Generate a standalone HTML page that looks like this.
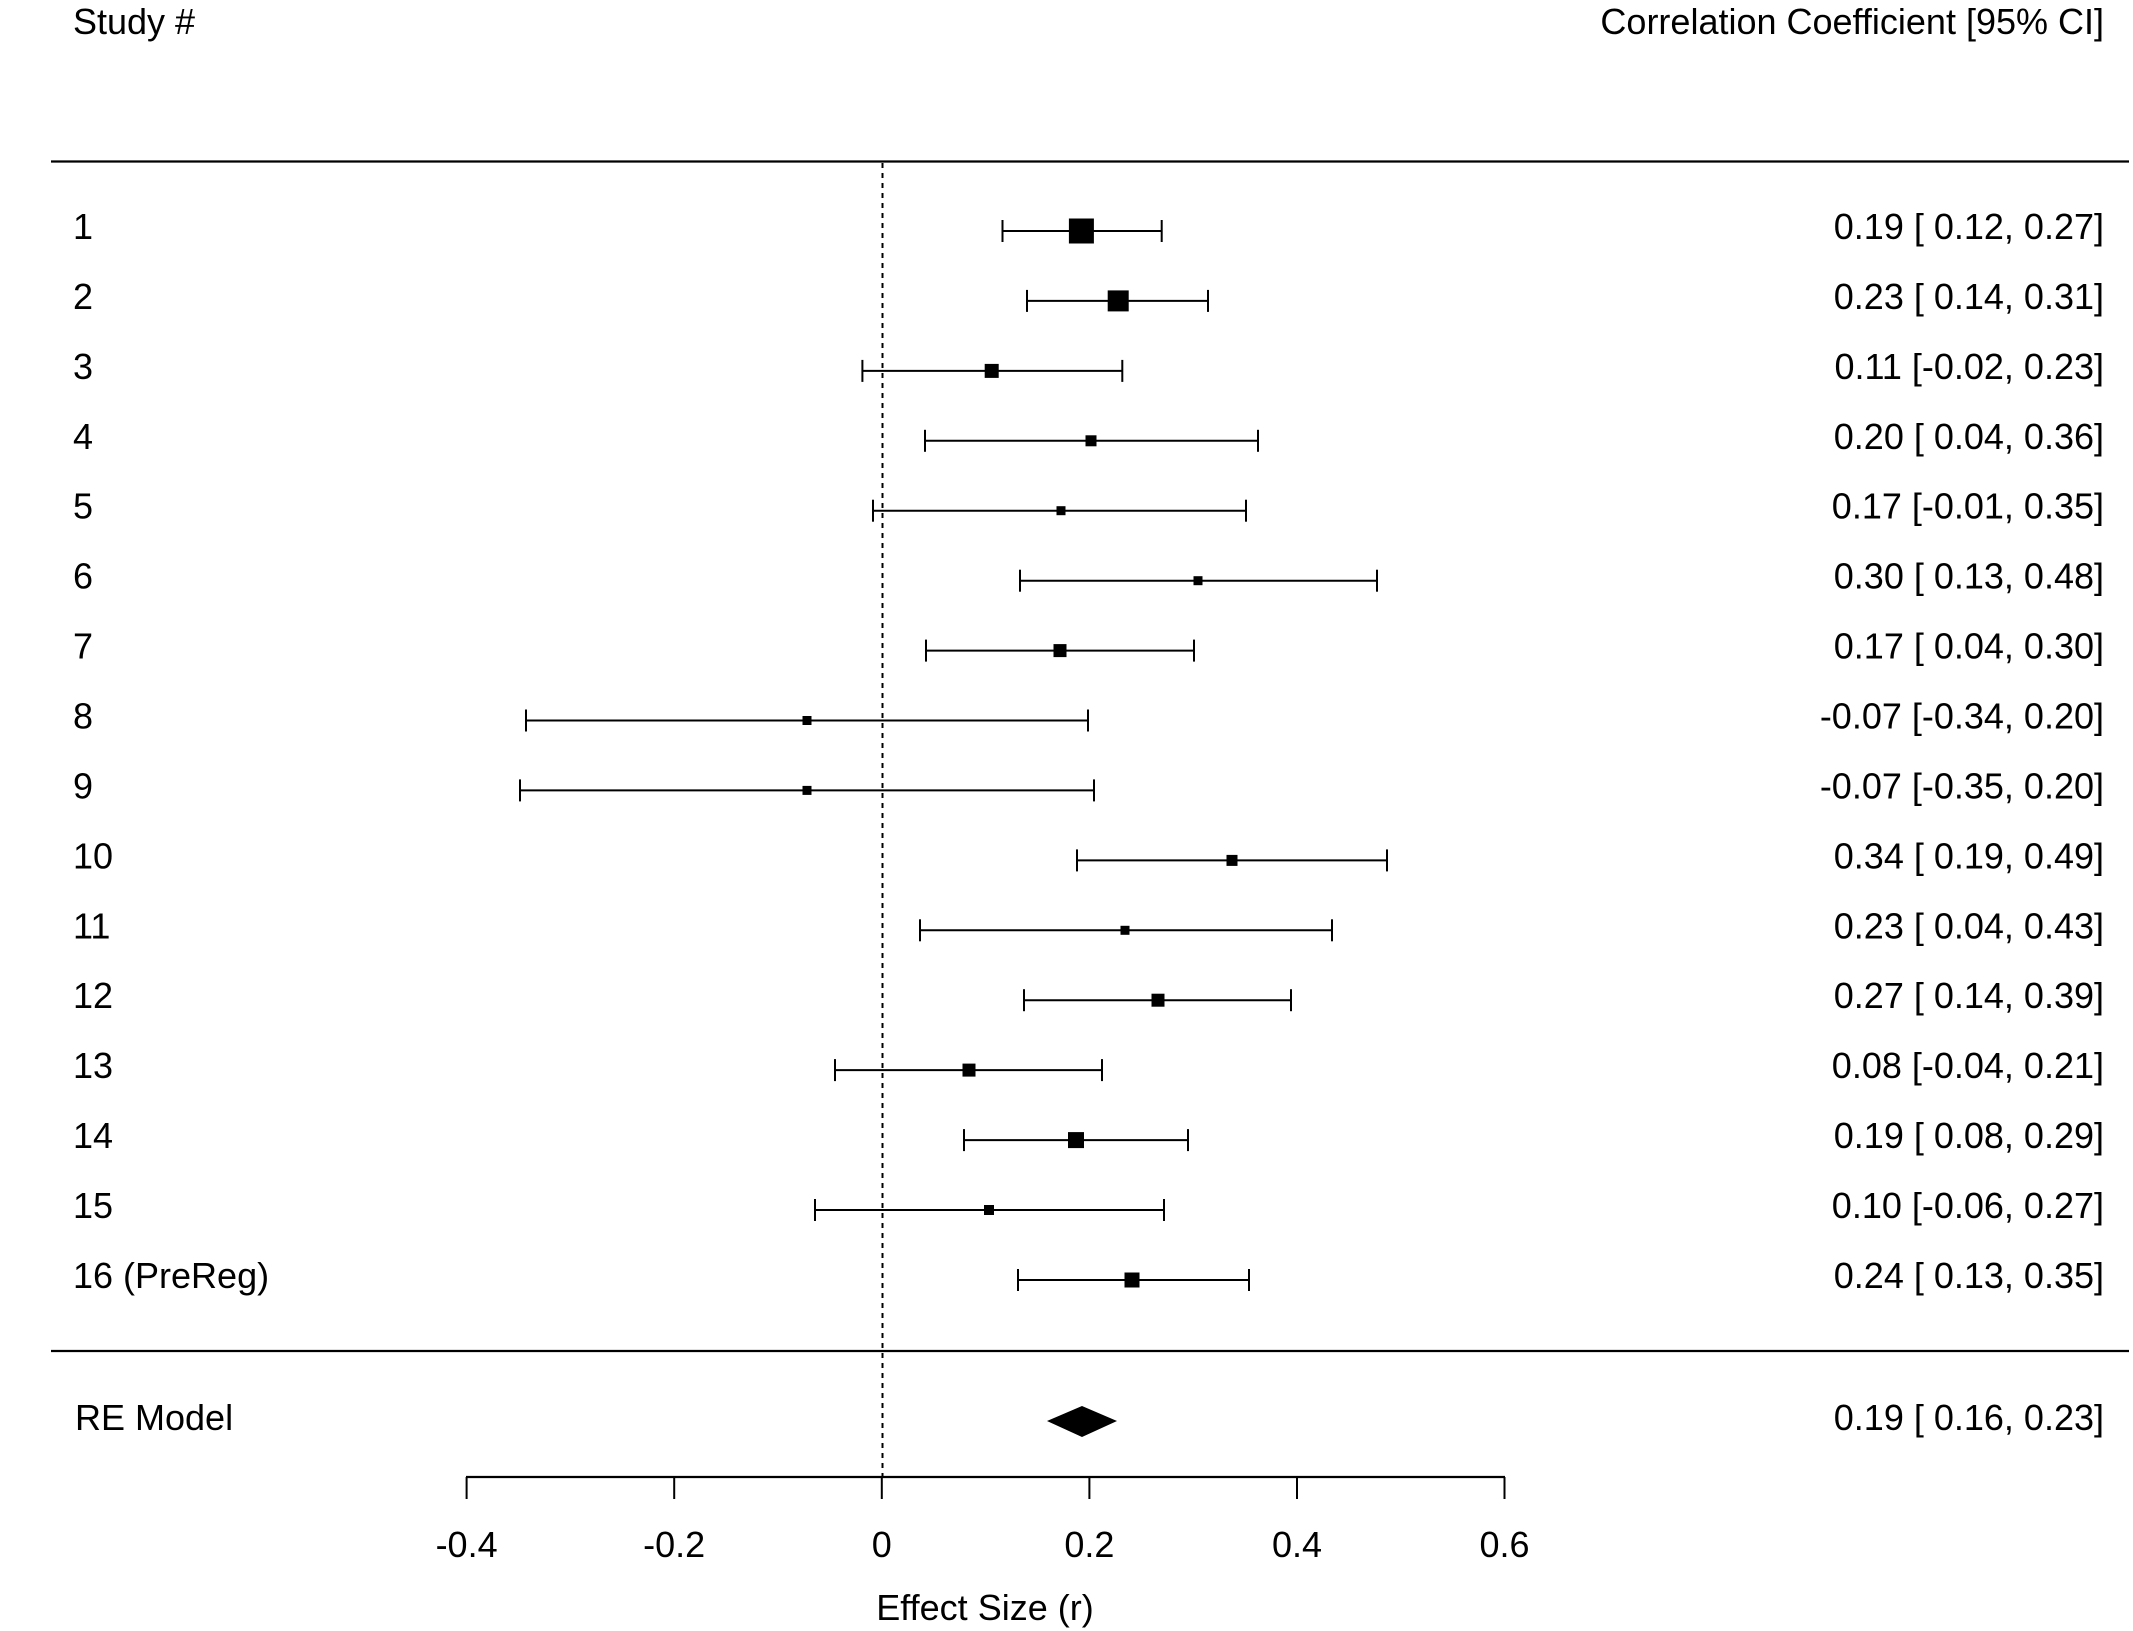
<!DOCTYPE html>
<html><head><meta charset="utf-8"><style>
html,body{margin:0;padding:0;background:#fff;}
svg{display:block;}
text{font-family:"Liberation Sans",Arial,sans-serif;font-size:36px;fill:#000;}
</style></head><body>
<svg width="2133" height="1631" viewBox="0 0 2133 1631" xmlns="http://www.w3.org/2000/svg">
<text x="73" y="34">Study #</text>
<text x="2104" y="34" text-anchor="end">Correlation Coefficient [95% CI]</text>
<line x1="51" y1="161.5" x2="2129" y2="161.5" stroke="#000" stroke-width="2.2"/>
<line x1="51" y1="1351" x2="2129" y2="1351" stroke="#000" stroke-width="2.2"/>
<line x1="882.5" y1="163" x2="882.5" y2="1476" stroke="#000" stroke-width="2" stroke-dasharray="5,5"/>
<polygon points="1047,1421 1082,1406 1117,1421 1082,1437" fill="#000"/>
<text x="75" y="1430">RE Model</text>
<text x="2104" y="1430" text-anchor="end" xml:space="preserve">0.19 [ 0.16, 0.23]</text>
<line x1="466" y1="1477" x2="1505" y2="1477" stroke="#000" stroke-width="2.2"/>
<g stroke="#000" stroke-width="2">
<line x1="466.6" y1="1477" x2="466.6" y2="1499"/>
<line x1="674.2" y1="1477" x2="674.2" y2="1499"/>
<line x1="881.8" y1="1477" x2="881.8" y2="1499"/>
<line x1="1089.4" y1="1477" x2="1089.4" y2="1499"/>
<line x1="1297" y1="1477" x2="1297" y2="1499"/>
<line x1="1504.5" y1="1477" x2="1504.5" y2="1499"/>
</g>
<g text-anchor="middle">
<text x="466.6" y="1557">-0.4</text>
<text x="674.2" y="1557">-0.2</text>
<text x="881.8" y="1557">0</text>
<text x="1089.4" y="1557">0.2</text>
<text x="1297" y="1557">0.4</text>
<text x="1504.5" y="1557">0.6</text>
<text x="985" y="1620">Effect Size (r)</text>
</g>
<g>
<line x1="1002.5" y1="231" x2="1161.7" y2="231" stroke="#000" stroke-width="2"/><line x1="1002.5" y1="220" x2="1002.5" y2="242" stroke="#000" stroke-width="2"/><line x1="1161.7" y1="220" x2="1161.7" y2="242" stroke="#000" stroke-width="2"/><rect x="1068.9" y="218.5" width="25" height="25"/>
<line x1="1027" y1="300.9" x2="1208" y2="300.9" stroke="#000" stroke-width="2"/><line x1="1027" y1="289.9" x2="1027" y2="311.9" stroke="#000" stroke-width="2"/><line x1="1208" y1="289.9" x2="1208" y2="311.9" stroke="#000" stroke-width="2"/><rect x="1107.7" y="290.4" width="21" height="21"/>
<line x1="862.4" y1="370.9" x2="1122.3" y2="370.9" stroke="#000" stroke-width="2"/><line x1="862.4" y1="359.9" x2="862.4" y2="381.9" stroke="#000" stroke-width="2"/><line x1="1122.3" y1="359.9" x2="1122.3" y2="381.9" stroke="#000" stroke-width="2"/><rect x="984.7" y="363.9" width="14" height="14"/>
<line x1="925" y1="440.8" x2="1258" y2="440.8" stroke="#000" stroke-width="2"/><line x1="925" y1="429.8" x2="925" y2="451.8" stroke="#000" stroke-width="2"/><line x1="1258" y1="429.8" x2="1258" y2="451.8" stroke="#000" stroke-width="2"/><rect x="1085.5" y="435.3" width="11" height="11"/>
<line x1="873" y1="510.7" x2="1246" y2="510.7" stroke="#000" stroke-width="2"/><line x1="873" y1="499.7" x2="873" y2="521.7" stroke="#000" stroke-width="2"/><line x1="1246" y1="499.7" x2="1246" y2="521.7" stroke="#000" stroke-width="2"/><rect x="1056.5" y="506.2" width="9" height="9"/>
<line x1="1020" y1="580.7" x2="1377" y2="580.7" stroke="#000" stroke-width="2"/><line x1="1020" y1="569.7" x2="1020" y2="591.7" stroke="#000" stroke-width="2"/><line x1="1377" y1="569.7" x2="1377" y2="591.7" stroke="#000" stroke-width="2"/><rect x="1193.5" y="576.2" width="9" height="9"/>
<line x1="926" y1="650.6" x2="1194" y2="650.6" stroke="#000" stroke-width="2"/><line x1="926" y1="639.6" x2="926" y2="661.6" stroke="#000" stroke-width="2"/><line x1="1194" y1="639.6" x2="1194" y2="661.6" stroke="#000" stroke-width="2"/><rect x="1053.5" y="644.1" width="13" height="13"/>
<line x1="526" y1="720.5" x2="1088" y2="720.5" stroke="#000" stroke-width="2"/><line x1="526" y1="709.5" x2="526" y2="731.5" stroke="#000" stroke-width="2"/><line x1="1088" y1="709.5" x2="1088" y2="731.5" stroke="#000" stroke-width="2"/><rect x="802.5" y="716" width="9" height="9"/>
<line x1="520" y1="790.4" x2="1094" y2="790.4" stroke="#000" stroke-width="2"/><line x1="520" y1="779.4" x2="520" y2="801.4" stroke="#000" stroke-width="2"/><line x1="1094" y1="779.4" x2="1094" y2="801.4" stroke="#000" stroke-width="2"/><rect x="802.5" y="785.9" width="9" height="9"/>
<line x1="1077" y1="860.4" x2="1387" y2="860.4" stroke="#000" stroke-width="2"/><line x1="1077" y1="849.4" x2="1077" y2="871.4" stroke="#000" stroke-width="2"/><line x1="1387" y1="849.4" x2="1387" y2="871.4" stroke="#000" stroke-width="2"/><rect x="1226.5" y="854.9" width="11" height="11"/>
<line x1="920" y1="930.3" x2="1332" y2="930.3" stroke="#000" stroke-width="2"/><line x1="920" y1="919.3" x2="920" y2="941.3" stroke="#000" stroke-width="2"/><line x1="1332" y1="919.3" x2="1332" y2="941.3" stroke="#000" stroke-width="2"/><rect x="1120.5" y="925.8" width="9" height="9"/>
<line x1="1024" y1="1000.2" x2="1291" y2="1000.2" stroke="#000" stroke-width="2"/><line x1="1024" y1="989.2" x2="1024" y2="1011.2" stroke="#000" stroke-width="2"/><line x1="1291" y1="989.2" x2="1291" y2="1011.2" stroke="#000" stroke-width="2"/><rect x="1151.5" y="993.7" width="13" height="13"/>
<line x1="835" y1="1070.1" x2="1102" y2="1070.1" stroke="#000" stroke-width="2"/><line x1="835" y1="1059.1" x2="835" y2="1081.1" stroke="#000" stroke-width="2"/><line x1="1102" y1="1059.1" x2="1102" y2="1081.1" stroke="#000" stroke-width="2"/><rect x="962.5" y="1063.6" width="13" height="13"/>
<line x1="964" y1="1140.1" x2="1188" y2="1140.1" stroke="#000" stroke-width="2"/><line x1="964" y1="1129.1" x2="964" y2="1151.1" stroke="#000" stroke-width="2"/><line x1="1188" y1="1129.1" x2="1188" y2="1151.1" stroke="#000" stroke-width="2"/><rect x="1068" y="1132.1" width="16" height="16"/>
<line x1="815" y1="1210" x2="1164" y2="1210" stroke="#000" stroke-width="2"/><line x1="815" y1="1199" x2="815" y2="1221" stroke="#000" stroke-width="2"/><line x1="1164" y1="1199" x2="1164" y2="1221" stroke="#000" stroke-width="2"/><rect x="984" y="1205" width="10" height="10"/>
<line x1="1018" y1="1280" x2="1249" y2="1280" stroke="#000" stroke-width="2"/><line x1="1018" y1="1269" x2="1018" y2="1291" stroke="#000" stroke-width="2"/><line x1="1249" y1="1269" x2="1249" y2="1291" stroke="#000" stroke-width="2"/><rect x="1124.5" y="1272.5" width="15" height="15"/>
</g>
<g transform="translate(0,-3)">
<text x="73" y="242">1</text><text x="2104" y="242" text-anchor="end" xml:space="preserve">0.19 [ 0.12, 0.27]</text>
<text x="73" y="311.9">2</text><text x="2104" y="311.9" text-anchor="end" xml:space="preserve">0.23 [ 0.14, 0.31]</text>
<text x="73" y="381.9">3</text><text x="2104" y="381.9" text-anchor="end" xml:space="preserve">0.11 [-0.02, 0.23]</text>
<text x="73" y="451.8">4</text><text x="2104" y="451.8" text-anchor="end" xml:space="preserve">0.20 [ 0.04, 0.36]</text>
<text x="73" y="521.7">5</text><text x="2104" y="521.7" text-anchor="end" xml:space="preserve">0.17 [-0.01, 0.35]</text>
<text x="73" y="591.7">6</text><text x="2104" y="591.7" text-anchor="end" xml:space="preserve">0.30 [ 0.13, 0.48]</text>
<text x="73" y="661.6">7</text><text x="2104" y="661.6" text-anchor="end" xml:space="preserve">0.17 [ 0.04, 0.30]</text>
<text x="73" y="731.5">8</text><text x="2104" y="731.5" text-anchor="end" xml:space="preserve">-0.07 [-0.34, 0.20]</text>
<text x="73" y="801.4">9</text><text x="2104" y="801.4" text-anchor="end" xml:space="preserve">-0.07 [-0.35, 0.20]</text>
<text x="73" y="871.4">10</text><text x="2104" y="871.4" text-anchor="end" xml:space="preserve">0.34 [ 0.19, 0.49]</text>
<text x="73" y="941.3">11</text><text x="2104" y="941.3" text-anchor="end" xml:space="preserve">0.23 [ 0.04, 0.43]</text>
<text x="73" y="1011.2">12</text><text x="2104" y="1011.2" text-anchor="end" xml:space="preserve">0.27 [ 0.14, 0.39]</text>
<text x="73" y="1081.1">13</text><text x="2104" y="1081.1" text-anchor="end" xml:space="preserve">0.08 [-0.04, 0.21]</text>
<text x="73" y="1151.1">14</text><text x="2104" y="1151.1" text-anchor="end" xml:space="preserve">0.19 [ 0.08, 0.29]</text>
<text x="73" y="1221">15</text><text x="2104" y="1221" text-anchor="end" xml:space="preserve">0.10 [-0.06, 0.27]</text>
<text x="73" y="1291">16 (PreReg)</text><text x="2104" y="1291" text-anchor="end" xml:space="preserve">0.24 [ 0.13, 0.35]</text>
</g>
</svg>
</body></html>
